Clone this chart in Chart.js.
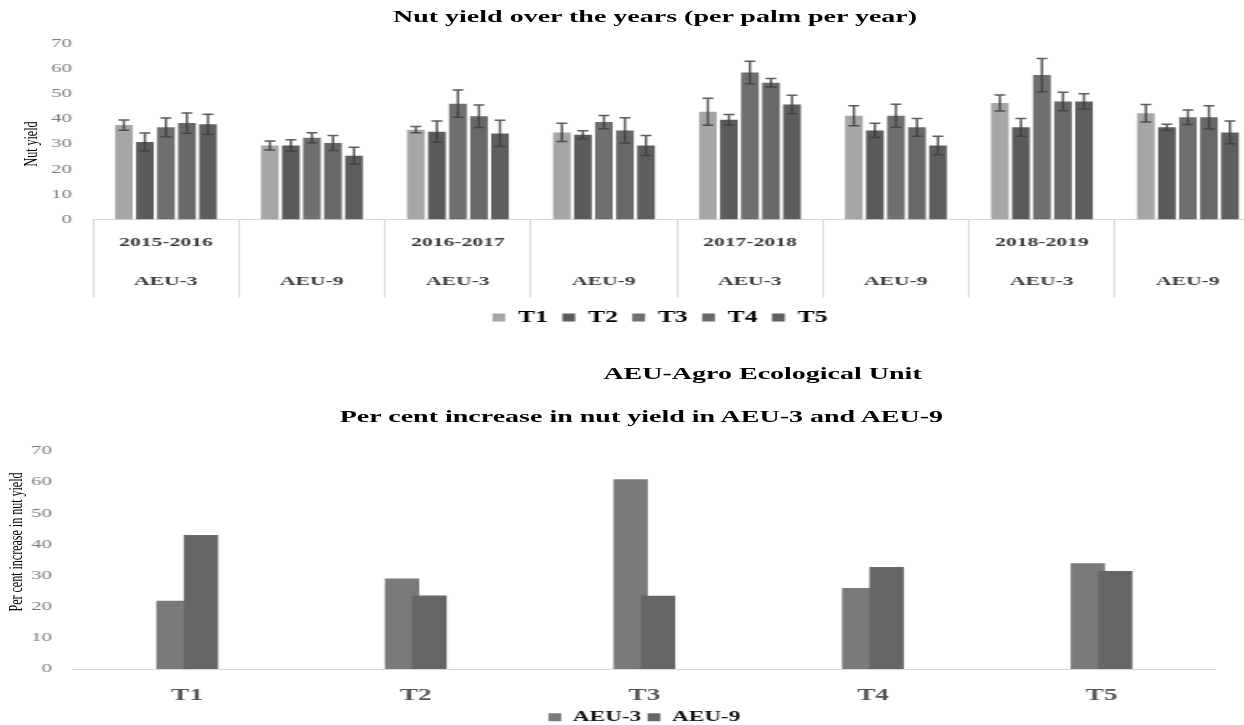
<!DOCTYPE html>
<html>
<head>
<meta charset="utf-8">
<title>Nut yield</title>
<script src="https://cdn.jsdelivr.net/npm/chart.js@4.4.1/dist/chart.umd.min.js"></script>
<style>
  html, body { margin: 0; padding: 0; background: #fff; overflow: hidden; width: 1244px; height: 725px; }
  /* the whole sheet is drawn narrow and widened horizontally */
  #sheet { position: absolute; left: 0; top: 0; width: 777.5px; height: 725px; transform: scaleX(1.6); transform-origin: 0 0; }
  #sheet canvas { position: absolute; left: 0; }
  .heading { position: absolute; left: 0; margin: 0; font-family: 'Liberation Serif', 'Times New Roman', serif; font-weight: bold;
             font-size: 17.5px; line-height: 20px; color: #000; white-space: nowrap; text-align: center; }
  .axis-title { position: absolute; margin: 0; font-family: 'Liberation Serif', 'Times New Roman', serif; font-size: 12px;
                line-height: 14px; color: #000; white-space: nowrap; transform: translate(-50%, -50%) rotate(-90deg); }
</style>
</head>
<body>
<div id="sheet">
  <canvas id="yieldChart" width="790" height="336" style="top:0"></canvas>
  <canvas id="increaseChart" width="778" height="305" style="top:430px"></canvas>
  <h1 class="heading" style="width:818.8px; top:6px">Nut yield over the years (per palm per year)</h1>
  <p class="heading" style="width:953.2px; top:363px">AEU-Agro Ecological Unit</p>
  <h2 class="heading" style="width:801.8px; top:406px">Per cent increase in nut yield in AEU-3 and AEU-9</h2>
  <div class="axis-title" style="left:18.75px; top:144px">Nut yield</div>
  <div class="axis-title" style="left:10px; top:542px">Per cent increase in nut yield</div>
</div>
<script>
// ---- data ----
const seasons = ['2015-2016', '2016-2017', '2017-2018', '2018-2019'];
const zones = ['AEU-3', 'AEU-9'];
const treatments = ['T1', 'T2', 'T3', 'T4', 'T5'];

// nuts per palm per year, one value per season/zone column
const yieldT1 = [37.5, 29.4, 35.7, 34.6, 42.8, 41.2, 46.3, 42.2];
const yieldT2 = [30.8, 29.4, 34.9, 33.7, 39.6, 35.4, 36.6, 36.6];
const yieldT3 = [36.6, 32.5, 46.0, 38.7, 58.4, 41.2, 57.4, 40.6];
const yieldT4 = [38.3, 30.4, 41.0, 35.4, 54.3, 36.6, 46.9, 40.6];
const yieldT5 = [37.8, 25.3, 34.2, 29.4, 45.7, 29.4, 46.9, 34.6];

// standard error of each mean
const errT1 = [2.0, 1.8, 1.2, 3.6, 5.4, 4.0, 3.2, 3.5];
const errT2 = [3.6, 2.3, 4.2, 1.6, 2.1, 2.8, 3.5, 1.2];
const errT3 = [3.7, 2.0, 5.4, 2.6, 4.5, 4.6, 6.6, 2.9];
const errT4 = [4.0, 3.0, 4.5, 5.0, 1.7, 3.5, 3.7, 4.6];
const errT5 = [4.0, 3.4, 5.2, 4.0, 3.7, 3.7, 3.1, 4.5];

// per cent increase in nut yield by treatment
const increaseAEU3 = [21.8, 28.9, 60.8, 25.9, 33.8];
const increaseAEU9 = [42.9, 23.5, 23.4, 32.6, 31.3];

const yTicks = [0, 10, 20, 30, 40, 50, 60, 70];

// ---- styling ----
const SERIF = "'Liberation Serif', 'Times New Roman', serif";
Chart.defaults.font.family = SERIF;
Chart.defaults.animation = false;

const treatmentColors = ['#a6a6a6', '#5b5b5b', '#6f6f6f', '#686868', '#5e5e5e'];
const zoneColors = ['#7a7a7a', '#666666'];

// two-row column labels: season on the first column of each season, zone underneath
const columnLabels = [];
seasons.forEach(season => zones.forEach((zone, k) => columnLabels.push([k === 0 ? season : '', zone])));

// whiskers drawn from each bar's mean +/- error through the value scale
const errorBars = {
  id: 'errorBars',
  afterDatasetsDraw(chart, args, opts) {
    const ctx = chart.ctx;
    const yScale = chart.scales.y;
    ctx.save();
    ctx.strokeStyle = opts.color;
    ctx.lineWidth = opts.width;
    chart.data.datasets.forEach((ds, i) => {
      const meta = chart.getDatasetMeta(i);
      if (!ds.errors || meta.hidden) return;
      meta.data.forEach((bar, j) => {
        const v = ds.data[j], e = ds.errors[j];
        const hi = yScale.getPixelForValue(v + e);
        const lo = yScale.getPixelForValue(v - e);
        ctx.beginPath();
        ctx.moveTo(bar.x, hi); ctx.lineTo(bar.x, lo);
        ctx.moveTo(bar.x - opts.cap, hi); ctx.lineTo(bar.x + opts.cap, hi);
        ctx.moveTo(bar.x - opts.cap, lo); ctx.lineTo(bar.x + opts.cap, lo);
        ctx.stroke();
      });
    });
    ctx.restore();
  }
};

// moves the legend row sideways after the layout has placed it
const legendNudge = {
  id: 'legendNudge',
  afterLayout(chart, args, opts) {
    if (!chart.legend || !opts.shift) return;
    chart.legend.left += opts.shift;
    chart.legend.right += opts.shift;
  }
};

function valueAxis(axisWidth) {
  return {
    min: 0, max: 70,
    afterBuildTicks(axis) { axis.ticks = yTicks.map(v => ({ value: v })); },
    ticks: { padding: 13, color: '#7a7a7a', font: { family: SERIF, size: 13 } },
    grid: { display: false, drawTicks: false },
    border: { display: false },
    title: { display: false },
    afterFit(scale) { scale.width = axisWidth; }
  };
}

// ---- chart 1: nut yield with error bars ----
const yieldSeries = [yieldT1, yieldT2, yieldT3, yieldT4, yieldT5];
const errSeries = [errT1, errT2, errT3, errT4, errT5];

new Chart(document.getElementById('yieldChart'), {
  type: 'bar',
  data: {
    labels: columnLabels,
    datasets: treatments.map((t, i) => ({
      label: t,
      data: yieldSeries[i],
      errors: errSeries[i],
      backgroundColor: treatmentColors[i],
      borderWidth: 0,
      categoryPercentage: 0.72,
      barPercentage: 0.84
    }))
  },
  options: {
    responsive: false,
    devicePixelRatio: 1,
    layout: { padding: { top: 43.3, left: 0, right: 1.9, bottom: 0.5 } },
    scales: {
      x: {
        // long tick marks at the column boundaries form the separators of the label table
        grid: { display: true, offset: true, drawOnChartArea: false, drawTicks: true, tickLength: 78,
                color: '#d9d9d9', tickColor: '#d9d9d9', lineWidth: 1 },
        border: { display: true, color: '#d9d9d9' },
        ticks: { autoSkip: false, maxRotation: 0, minRotation: 0, padding: -74, color: '#3a3a3a',
                 font: { family: SERIF, weight: 'bold', size: 13.5, lineHeight: '38.5px' } },
        afterFit(scale) { scale.height = 81; }
      },
      y: valueAxis(58.1)
    },
    plugins: {
      legend: {
        position: 'bottom', fullSize: false,
        labels: { boxWidth: 8, boxHeight: 8, padding: 9, color: '#000',
                  font: { family: SERIF, weight: 'bold', size: 16 } }
      },
      legendNudge: { shift: -10.6 },
      tooltip: { enabled: false },
      errorBars: { color: 'rgba(64,64,64,0.85)', width: 1.5, cap: 3.4 }
    }
  },
  plugins: [errorBars, legendNudge]
});

// ---- chart 2: per cent increase, AEU-9 bar overlapping the AEU-3 bar ----
const PAIR_SHIFT = 0.06;   // half the distance between the two bars of a pair, in category units

new Chart(document.getElementById('increaseChart'), {
  type: 'bar',
  data: {
    datasets: [
      { label: zones[0], order: 1, backgroundColor: zoneColors[0], borderWidth: 0,
        data: treatments.map((t, i) => ({ x: i - PAIR_SHIFT, y: increaseAEU3[i] })) },
      { label: zones[1], order: 0, backgroundColor: zoneColors[1], borderWidth: 0,
        data: treatments.map((t, i) => ({ x: i + PAIR_SHIFT, y: increaseAEU9[i] })) }
    ]
  },
  options: {
    responsive: false,
    devicePixelRatio: 1,
    datasets: { bar: { grouped: false, barThickness: 20.8 } },
    layout: { padding: { top: 18.3, left: 0, right: 18.1, bottom: 0.6 } },
    scales: {
      x: {
        type: 'linear', min: -0.5, max: 4.5, offset: false,
        afterBuildTicks(axis) { axis.ticks = treatments.map((t, i) => ({ value: i })); },
        ticks: { autoSkip: false, maxRotation: 0, minRotation: 0, padding: 16.5, color: '#555555',
                 font: { family: SERIF, weight: 'bold', size: 17 },
                 callback: v => treatments[v] ?? '' },
        grid: { display: true, drawOnChartArea: false, drawTicks: false, color: '#d9d9d9' },
        border: { display: true, color: '#d9d9d9' },
        afterFit(scale) { scale.height = 36.9; }
      },
      y: valueAxis(45.6)
    },
    plugins: {
      legend: {
        position: 'bottom', fullSize: false, reverse: true,
        labels: { boxWidth: 8, boxHeight: 8, padding: 4, color: '#111',
                  font: { family: SERIF, weight: 'bold', size: 14.5 } }
      },
      tooltip: { enabled: false }
    }
  }
});
</script>
</body>
</html>
